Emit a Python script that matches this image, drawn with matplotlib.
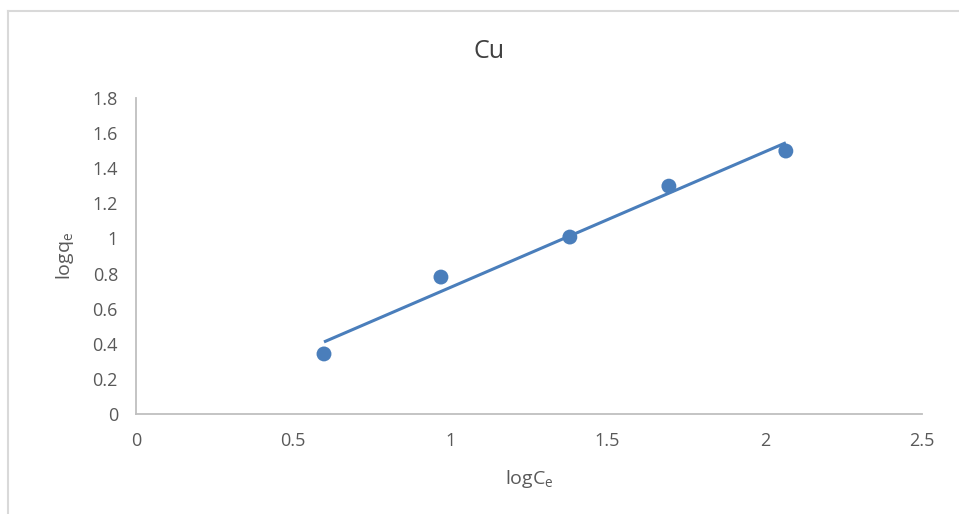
import matplotlib as mpl
import matplotlib.pyplot as plt
import numpy as np
from matplotlib.lines import Line2D

mpl.rcParams['font.family'] = ['Open Sans', 'DejaVu Sans']

# Freundlich isotherm data for Cu
log_ce = [0.598, 0.970, 1.380, 1.695, 2.067]
log_qe = [0.342, 0.780, 1.008, 1.298, 1.498]

x_ticks = [0, 0.5, 1, 1.5, 2, 2.5]
y_ticks = [0, 0.2, 0.4, 0.6, 0.8, 1, 1.2, 1.4, 1.6, 1.8]

blue = '#4a7ebb'
grey_txt = '#595959'
grey_ax = '#bfbfbf'

fig = plt.figure(figsize=(9.59, 5.14), dpi=100)
ax = fig.add_axes([0.1418, 0.1946, 0.8196, 0.6147])

# linear trendline through the points
slope, intercept = np.polyfit(log_ce, log_qe, 1)
xs = np.array([min(log_ce), max(log_ce)])
ax.plot(xs, slope * xs + intercept, color=blue, lw=2.2, solid_capstyle='butt', zorder=2)
ax.scatter(log_ce, log_qe, s=115, color=blue, edgecolors='none', zorder=3)

ax.set_xlim(0, 2.5)
ax.set_ylim(0, 1.8)
ax.set_xticks(x_ticks)
ax.set_yticks(y_ticks)
ax.set_xticklabels([f'{v:g}' for v in x_ticks])
ax.set_yticklabels([f'{v:g}' for v in y_ticks])
ax.tick_params(length=0, labelsize=13, colors=grey_txt, pad=13)
ax.tick_params(axis='y', pad=13)

for side in ['top', 'right']:
    ax.spines[side].set_visible(False)
for side in ['left', 'bottom']:
    ax.spines[side].set_color(grey_ax)
    ax.spines[side].set_linewidth(1.3)

fig.text(489 / 959, 1 - 52 / 514, 'Cu', fontsize=18, color='#404040', ha='center', va='center')
ax.set_xlabel(r'logC$_\mathregular{e}$', fontsize=14, color=grey_txt, labelpad=13)
ax.set_ylabel(r'logq$_\mathregular{e}$', fontsize=14, color=grey_txt, labelpad=12)

# chart area frame (top and left edges)
fig.add_artist(Line2D([8 / 959, 1], [1 - 11 / 514, 1 - 11 / 514], color='#d9d9d9', lw=1.5))
fig.add_artist(Line2D([8 / 959, 8 / 959], [0, 1 - 11 / 514], color='#d9d9d9', lw=1.5))

fig.savefig('out.png', dpi=100)
